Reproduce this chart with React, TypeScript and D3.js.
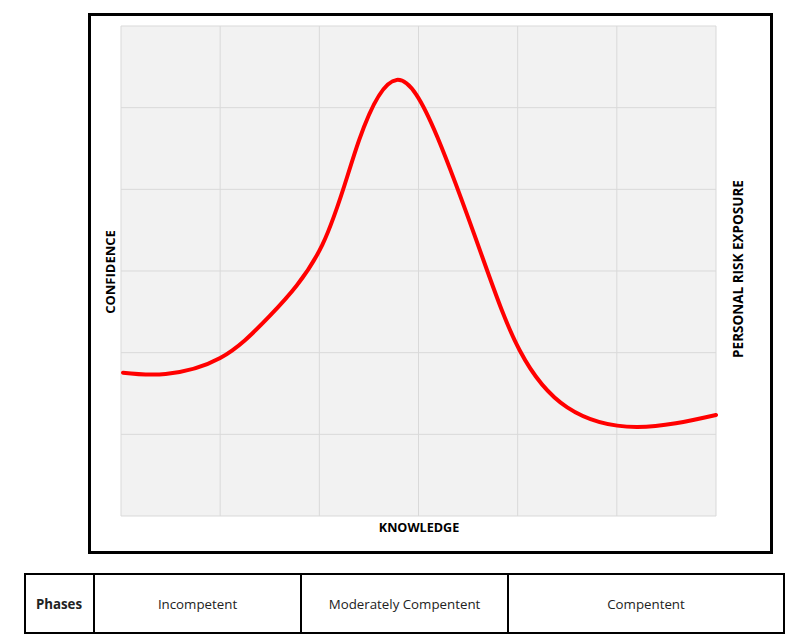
import React from "react";
import * as d3 from "d3";

const knowledge = [0.02, 0.45, 1.0, 1.5, 2.03, 2.4, 2.78, 3.19, 3.65, 4.02, 4.5, 5.2, 6.0];
const confidence = [1.755, 1.74, 1.935, 2.45, 3.32, 4.6, 5.34, 4.64, 3.15, 2.03, 1.33, 1.09, 1.237];
const gridTicks = [0, 1, 2, 3, 4, 5, 6];
const phases = ["Phases", "Incompetent", "Moderately Compentent", "Compentent"];
const phaseEdges = [24, 94, 301, 508, 784];

export default function App() {
  const x = d3.scaleLinear().domain([0, 6]).range([121, 716]);
  const y = d3.scaleLinear().domain([0, 6]).range([516, 26]);
  const pts: [number, number][] = knowledge.map((k, i) => [k, confidence[i]]);
  const line = d3
    .line<[number, number]>()
    .x((d) => x(d[0]))
    .y((d) => y(d[1]))
    .curve(d3.curveNatural);
  const font = "'Open Sans', sans-serif";
  return (
    <svg width={800} height={641} style={{ position: "absolute", left: 0, top: 0, background: "#fff" }}>
      <rect x={121} y={26} width={595} height={490} fill="#f2f2f2" />
      {gridTicks.map((t) => (
        <line key={"v" + t} x1={x(t)} x2={x(t)} y1={26} y2={516} stroke="#d9d9d9" strokeWidth={1} />
      ))}
      {gridTicks.map((t) => (
        <line key={"h" + t} x1={121} x2={716} y1={y(t)} y2={y(t)} stroke="#d9d9d9" strokeWidth={1} />
      ))}
      <path d={line(pts) || ""} fill="none" stroke="#ff0000" strokeWidth={4} strokeLinecap="round" />
      <rect x={89.5} y={14.5} width={682} height={538} fill="none" stroke="#000" strokeWidth={3} />
      <text x={419} y={532} textAnchor="middle" fontFamily={font} fontWeight="bold" fontSize={12.6}>KNOWLEDGE</text>
      <text transform="translate(115,272) rotate(-90)" textAnchor="middle" fontFamily={font} fontWeight="bold" fontSize={13}>CONFIDENCE</text>
      <text transform="translate(743,269) rotate(-90)" textAnchor="middle" fontFamily={font} fontWeight="bold" fontSize={13.5}>PERSONAL RISK EXPOSURE</text>
      <rect x={25} y={574} width={759} height={59} fill="none" stroke="#000" strokeWidth={2} />
      {phaseEdges.slice(1, -1).map((e) => (
        <line key={e} x1={e} x2={e} y1={574} y2={633} stroke="#000" strokeWidth={2} />
      ))}
      {phases.map((p, i) => (
        <text key={p} x={(phaseEdges[i] + phaseEdges[i + 1]) / 2} y={609} textAnchor="middle" fontFamily={font} fontWeight={i === 0 ? "bold" : "normal"} fontSize={13.3} fill="#222">
          {p}
        </text>
      ))}
    </svg>
  );
}
